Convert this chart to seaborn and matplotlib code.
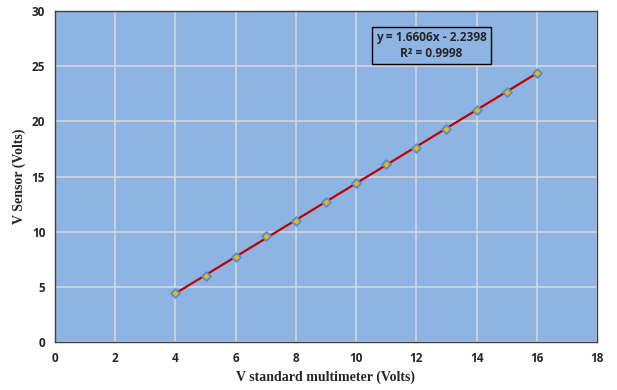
import numpy as np
import pandas as pd
import matplotlib
matplotlib.use("Agg")
import matplotlib.pyplot as plt
import seaborn as sns

x_vals = [4, 5, 6, 7, 8, 9, 10, 11, 12, 13, 14, 15, 16]
y_vals = [4.41, 5.95, 7.73, 9.60, 11.00, 12.72, 14.38, 16.15, 17.61, 19.28, 21.03, 22.69, 24.41]
x_ticks = [0, 2, 4, 6, 8, 10, 12, 14, 16, 18]
y_ticks = [0, 5, 10, 15, 20, 25, 30]
eq_text = "y = 1.6606x - 2.2398\nR\u00b2 = 0.9998"
x_label = "V standard multimeter (Volts)"
y_label = "V Sensor (Volts)"

df = pd.DataFrame({"x": x_vals, "y": y_vals})

sns.set_style("white")
plt.rcParams["font.family"] = ["Open Sans", "DejaVu Sans"]

fig = plt.figure(figsize=(6.17, 3.90), dpi=100)
ax = fig.add_axes([0.0891, 0.123, 0.8785, 0.8488])
ax.set_facecolor("#8DB4E2")

ax.set_axisbelow(True)
ax.grid(True, color="#D9D9D9", linewidth=1.1)

sns.regplot(data=df, x="x", y="y", ax=ax, scatter=False, ci=None, truncate=True,
            line_kws=dict(color="#C00000", linewidth=1.6, zorder=2))
sns.scatterplot(data=df, x="x", y="y", ax=ax, marker="D", s=20,
                color="#F5B800", edgecolor="#5B8FC9", linewidth=1.4, zorder=3)

ax.set_xlim(0, 18)
ax.set_ylim(0, 30)
ax.set_xticks(x_ticks)
ax.set_yticks(y_ticks)
ax.set_xticklabels([str(t) for t in x_ticks], fontweight="bold", fontsize=8.5)
ax.set_yticklabels([str(t) for t in y_ticks], fontweight="bold", fontsize=8.5)
ax.tick_params(length=0, pad=7)

ax.set_xlabel(x_label, family="Liberation Serif", fontweight="bold", fontsize=10, labelpad=4)
ax.set_ylabel(y_label, family="Liberation Serif", fontweight="bold", fontsize=10, labelpad=4)

for s in ax.spines.values():
    s.set_visible(True)
    s.set_color("#404040")
    s.set_linewidth(1.0)

ax.text(12.5, 26.9, eq_text, ha="center", va="center", fontsize=8.6, fontweight="bold",
        linespacing=1.3,
        bbox=dict(boxstyle="square,pad=0.35", facecolor="#8DB4E2", edgecolor="black", linewidth=1.0))

fig.savefig("out.png", dpi=100, facecolor="white")
